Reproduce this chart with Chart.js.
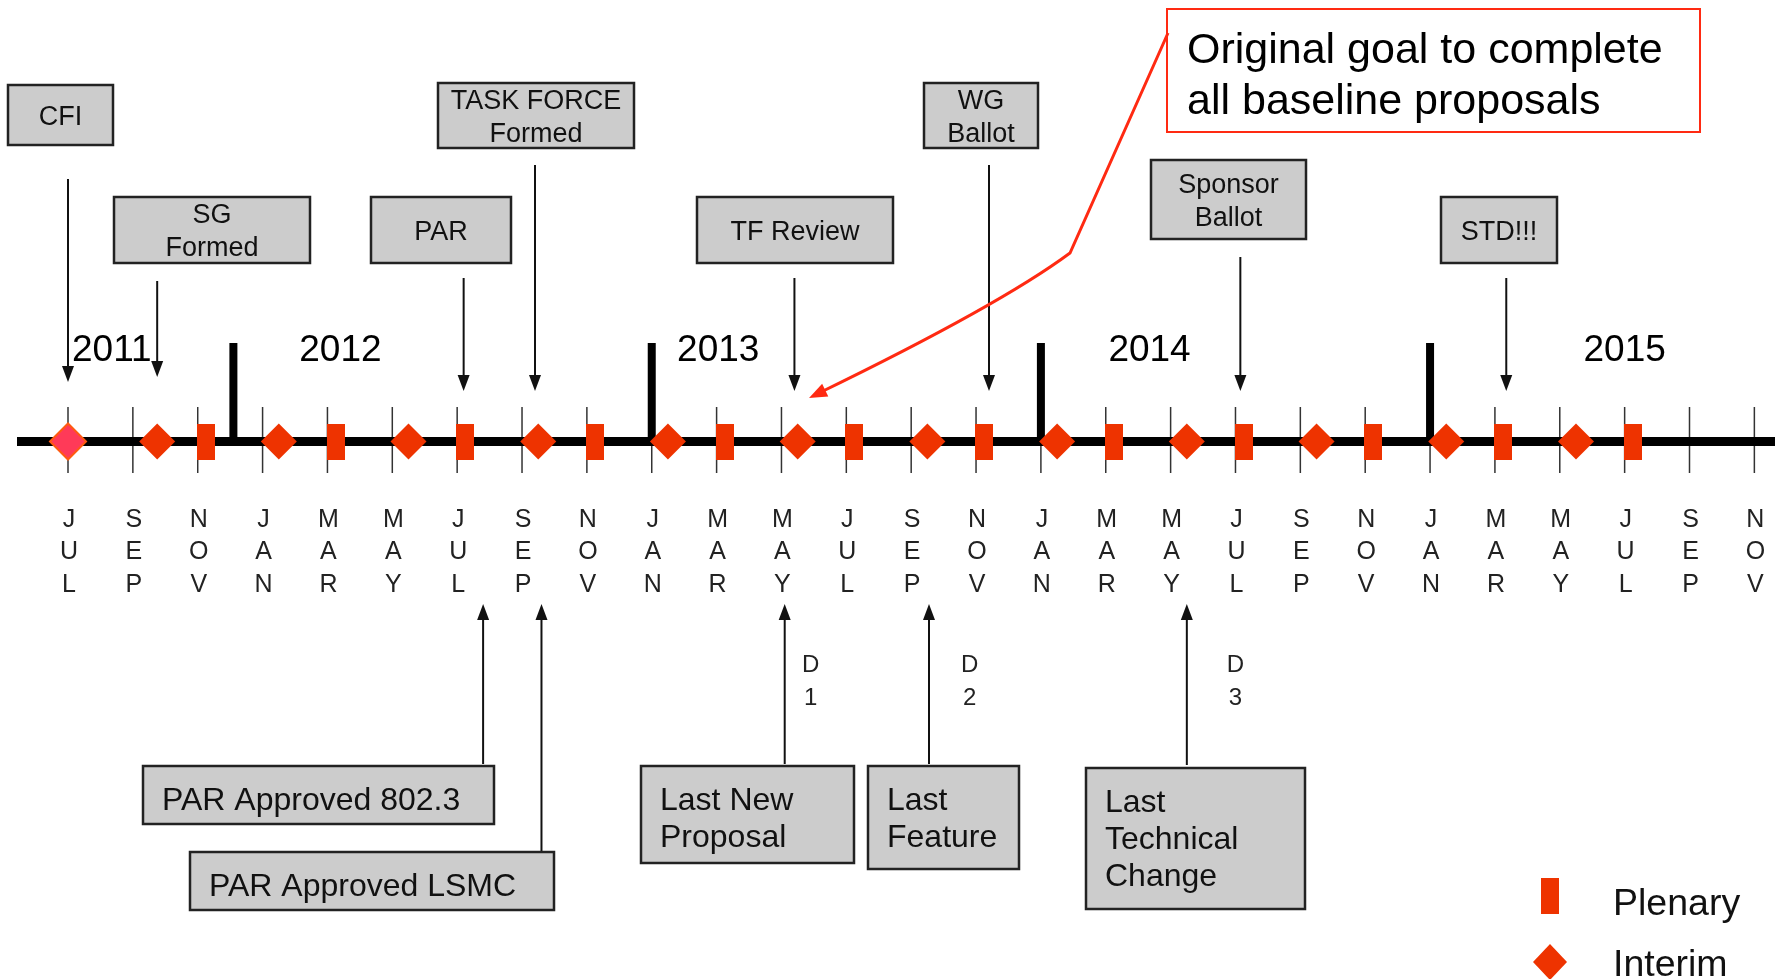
<!DOCTYPE html>
<html>
<head>
<meta charset="utf-8">
<script src="https://cdn.jsdelivr.net/npm/chart.js"></script>
<style>
  html, body { margin: 0; padding: 0; background: #fff; }
  #wrap { width: 1775px; height: 979px; position: relative; }
</style>
</head>
<body>
<div id="wrap"><canvas id="timeline"></canvas></div>
<script>
// months are counted from JUL 2011 = 0
const monthLabels = ['JUL', 'SEP', 'NOV', 'JAN', 'MAR', 'MAY', 'JUL', 'SEP', 'NOV', 'JAN', 'MAR', 'MAY', 'JUL', 'SEP',
  'NOV', 'JAN', 'MAR', 'MAY', 'JUL', 'SEP', 'NOV', 'JAN', 'MAR', 'MAY', 'JUL', 'SEP', 'NOV'];
const tickMonths = [0, 2, 4, 6, 8, 10, 12, 14, 16, 18, 20, 22, 24, 26, 28, 30, 32, 34, 36, 38, 40, 42, 44, 46, 48, 50, 52];

const yearLabels = ['2011', '2012', '2013', '2014', '2015'];
const yearLabelMonths = [1.35, 8.4, 20.05, 33.35, 48];
const yearBreakMonths = [5.1, 18, 30, 42];

const interimMonths = [0, 2.75, 6.5, 10.5, 14.5, 18.5, 22.5, 26.5, 30.5, 34.5, 38.5, 42.5, 46.5];
const plenaryMonths = [4.25, 8.25, 12.25, 16.25, 20.25, 24.25, 28.25, 32.25, 36.25, 40.25, 44.25, 48.25];

const topMilestones = ['CFI', 'SG\nFormed', 'PAR', 'TASK FORCE\nFormed', 'TF Review', 'WG\nBallot', 'Sponsor\nBallot', 'STD!!!'];
const topMonths = [0, 2.75, 12.2, 14.4, 22.4, 28.4, 36.15, 44.35];

const bottomMilestones = ['PAR Approved 802.3', 'PAR Approved LSMC', 'Last New\nProposal', 'Last\nFeature', 'Last\nTechnical\nChange'];
const bottomMonths = [12.8, 14.6, 22.1, 26.55, 34.5];

const draftLabels = ['D1', 'D2', 'D3'];
const draftMonths = [22.9, 27.8, 36.0];

const calloutText = ['Original goal to complete', 'all baseline proposals'];
const legendLabels = ['Plenary', 'Interim'];

// layout (pixels)
const lineY = 441.5;
const topBoxes = [
  [8, 85, 105, 60, 179, 382], [114, 197, 196, 66, 281, 377], [371, 197, 140, 66, 278, 391],
  [438, 83, 196, 65, 165, 391], [697, 197, 196, 66, 278, 391], [924, 83, 114, 65, 165, 391],
  [1151, 160, 155, 79, 257, 391], [1441, 197, 116, 66, 278, 391]
];
const bottomBoxes = [
  [143, 766, 351, 58, 764], [190, 852, 364, 58, 851], [641, 766, 213, 97, 764],
  [868, 766, 151, 103, 764], [1086, 768, 219, 141, 765]
];

const RED = '#ee3300';
const FONT = "'Liberation Sans', Arial, sans-serif";

const plenaryMark = document.createElement('canvas');
plenaryMark.width = 18;
plenaryMark.height = 36;
const pm = plenaryMark.getContext('2d');
pm.fillStyle = RED;
pm.fillRect(0, 0, 18, 36);

function arrowHead(ctx, x, y, dx, dy, len, half) {
  const l = Math.hypot(dx, dy);
  const ux = dx / l, uy = dy / l;
  ctx.beginPath();
  ctx.moveTo(x, y);
  ctx.lineTo(x - ux * len - uy * half, y - uy * len + ux * half);
  ctx.lineTo(x - ux * len + uy * half, y - uy * len - ux * half);
  ctx.closePath();
  ctx.fill();
}

const timelinePlugin = {
  id: 'timeline',
  beforeDatasetsDraw(chart) {
    const { ctx, scales: { x, y } } = chart;
    const px = m => x.getPixelForValue(m);
    const py = v => y.getPixelForValue(v);
    ctx.save();

    // month ticks
    ctx.strokeStyle = '#333';
    ctx.lineWidth = 1.5;
    tickMonths.forEach(m => {
      ctx.beginPath();
      ctx.moveTo(px(m), py(407));
      ctx.lineTo(px(m), py(473));
      ctx.stroke();
    });

    // main line
    ctx.fillStyle = '#000';
    ctx.fillRect(17, py(lineY) - 4.5, 1775 - 17, 9);

    // year breaks
    yearBreakMonths.forEach(m => {
      ctx.fillRect(px(m) - 4, py(343), 8, py(lineY) - py(343));
    });

    // year labels
    ctx.font = '37px ' + FONT;
    ctx.textAlign = 'center';
    ctx.textBaseline = 'middle';
    yearLabels.forEach((t, i) => ctx.fillText(t, px(yearLabelMonths[i]), py(351)));

    // month labels, letters stacked
    ctx.font = '25px ' + FONT;
    ctx.fillStyle = '#222';
    monthLabels.forEach((t, i) => {
      t.split('').forEach((c, j) => ctx.fillText(c, px(tickMonths[i]) + 1, py(520 + j * 32.5)));
    });

    // top milestone boxes + arrows
    topMilestones.forEach((t, i) => {
      const [bx, by, bw, bh, a0, a1] = topBoxes[i];
      ctx.fillStyle = '#cccccc';
      ctx.fillRect(bx, by, bw, bh);
      ctx.strokeStyle = '#222';
      ctx.lineWidth = 2.5;
      ctx.strokeRect(bx, by, bw, bh);
      ctx.fillStyle = '#111';
      ctx.font = '27px ' + FONT;
      ctx.textAlign = 'center';
      const lines = t.split('\n');
      lines.forEach((l, j) => ctx.fillText(l, bx + bw / 2, by + bh / 2 + (j - (lines.length - 1) / 2) * 33 + 2.5));
      const ax = px(topMonths[i]);
      ctx.strokeStyle = '#111';
      ctx.lineWidth = 2;
      ctx.beginPath();
      ctx.moveTo(ax, a0);
      ctx.lineTo(ax, a1 - 10);
      ctx.stroke();
      ctx.fillStyle = '#111';
      arrowHead(ctx, ax, a1, 0, 1, 16, 6);
    });

    // bottom milestone boxes + arrows
    bottomMilestones.forEach((t, i) => {
      const [bx, by, bw, bh, a0] = bottomBoxes[i];
      const ax = px(bottomMonths[i]);
      ctx.strokeStyle = '#111';
      ctx.lineWidth = 2;
      ctx.beginPath();
      ctx.moveTo(ax, a0);
      ctx.lineTo(ax, 616);
      ctx.stroke();
      ctx.fillStyle = '#111';
      arrowHead(ctx, ax, 604, 0, -1, 16, 6);
      ctx.fillStyle = '#cccccc';
      ctx.fillRect(bx, by, bw, bh);
      ctx.strokeStyle = '#222';
      ctx.lineWidth = 2.5;
      ctx.strokeRect(bx, by, bw, bh);
      ctx.fillStyle = '#111';
      ctx.font = '32px ' + FONT;
      ctx.textAlign = 'left';
      const lines = t.split('\n');
      lines.forEach((l, j) => ctx.fillText(l, bx + 19, by + 35 + j * 37));
    });

    // draft labels
    ctx.font = '24px ' + FONT;
    ctx.textAlign = 'center';
    ctx.fillStyle = '#222';
    draftLabels.forEach((t, i) => {
      ctx.fillText(t[0], px(draftMonths[i]), py(665));
      ctx.fillText(t[1], px(draftMonths[i]), py(698));
    });

    // callout
    ctx.fillStyle = '#fff';
    ctx.fillRect(1167, 9, 533, 123);
    ctx.strokeStyle = '#ff2a12';
    ctx.lineWidth = 2;
    ctx.strokeRect(1167, 9, 533, 123);
    ctx.fillStyle = '#000';
    ctx.font = '43px ' + FONT;
    ctx.textAlign = 'left';
    calloutText.forEach((l, j) => ctx.fillText(l, 1187, 51 + j * 51));
    const tx = px(22.85), ty = 398;
    ctx.lineWidth = 3;
    ctx.beginPath();
    ctx.moveTo(1168, 33);
    ctx.lineTo(1070, 253);
    ctx.quadraticCurveTo(1000, 305, tx + 10, ty - 5);
    ctx.stroke();
    ctx.fillStyle = '#ff2a12';
    arrowHead(ctx, tx, ty, tx - 1000, ty - 305, 18, 7);

    ctx.restore();
  },
  afterDatasetsDraw(chart) {
    const { ctx } = chart;
    ctx.save();
    ctx.drawImage(plenaryMark, 1541, 878);
    ctx.fillStyle = RED;
    ctx.beginPath();
    ctx.moveTo(1550, 944);
    ctx.lineTo(1567, 962);
    ctx.lineTo(1550, 980);
    ctx.lineTo(1533, 962);
    ctx.closePath();
    ctx.fill();
    ctx.fillStyle = '#111';
    ctx.font = '37.5px ' + FONT;
    ctx.textAlign = 'left';
    ctx.textBaseline = 'middle';
    ctx.fillText(legendLabels[0], 1613, 905);
    ctx.fillText(legendLabels[1], 1613, 966);
    ctx.restore();
  }
};

const ctx1 = document.getElementById('timeline');
new Chart(ctx1, {
  type: 'scatter',
  data: {
    datasets: [{
      label: legendLabels[1],
      data: interimMonths.map(m => ({ x: m, y: lineY })),
      pointStyle: 'rectRot',
      pointRadius: 18,
      pointBackgroundColor: interimMonths.map((m, i) => i === 0 ? '#ff3a58' : RED),
      pointBorderColor: interimMonths.map((m, i) => i === 0 ? '#ff5a10' : RED),
      pointBorderWidth: interimMonths.map((m, i) => i === 0 ? 2 : 0)
    }, {
      label: legendLabels[0],
      data: plenaryMonths.map(m => ({ x: m, y: lineY })),
      pointStyle: plenaryMark
    }]
  },
  options: {
    responsive: true,
    maintainAspectRatio: false,
    animation: false,
    layout: { padding: 0, autoPadding: false },
    scales: {
      x: { type: 'linear', display: false, min: -68 / 32.43, max: (1775 - 68) / 32.43 },
      y: { type: 'linear', display: false, min: 0, max: 979, reverse: true }
    },
    plugins: {
      legend: { display: false },
      tooltip: { enabled: false }
    },
    events: []
  },
  plugins: [timelinePlugin]
});
</script>
</body>
</html>
